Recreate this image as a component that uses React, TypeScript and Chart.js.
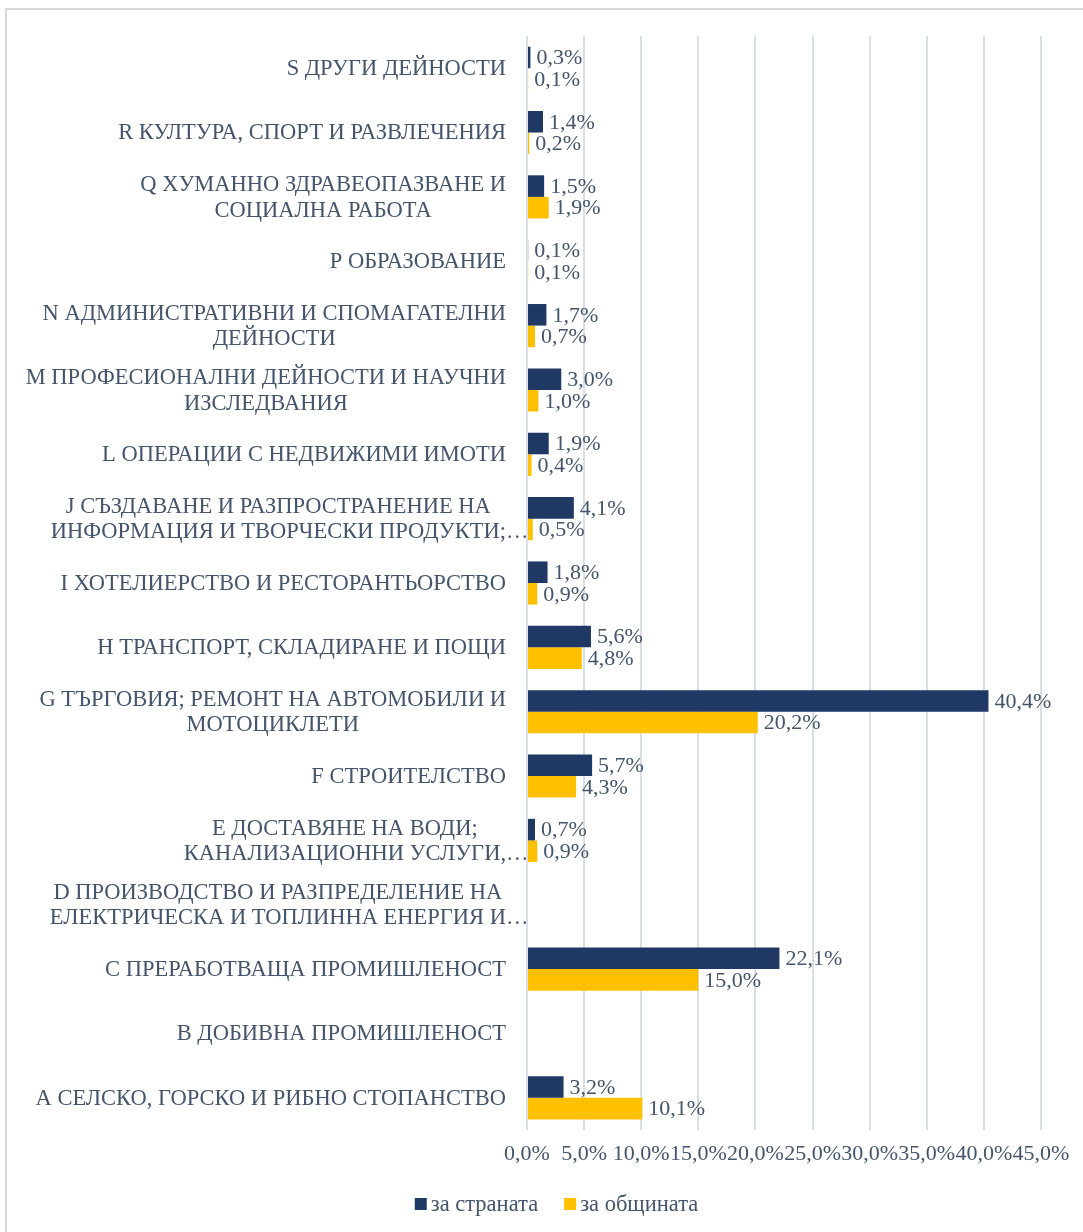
import React, { useEffect, useRef } from "react";
import { Chart, registerables } from "chart.js";

Chart.register(...registerables);

const categoryLabels: string[][] = [
  ["S ДРУГИ ДЕЙНОСТИ"],
  ["R КУЛТУРА, СПОРТ И РАЗВЛЕЧЕНИЯ"],
  ["Q ХУМАННО ЗДРАВЕОПАЗВАНЕ И", "СОЦИАЛНА РАБОТА"],
  ["P ОБРАЗОВАНИЕ"],
  ["N АДМИНИСТРАТИВНИ И СПОМАГАТЕЛНИ", "ДЕЙНОСТИ"],
  ["M ПРОФЕСИОНАЛНИ ДЕЙНОСТИ И НАУЧНИ", "ИЗСЛЕДВАНИЯ"],
  ["L ОПЕРАЦИИ С НЕДВИЖИМИ ИМОТИ"],
  ["J СЪЗДАВАНЕ И РАЗПРОСТРАНЕНИЕ НА", "ИНФОРМАЦИЯ И ТВОРЧЕСКИ ПРОДУКТИ;…"],
  ["I ХОТЕЛИЕРСТВО И РЕСТОРАНТЬОРСТВО"],
  ["H ТРАНСПОРТ, СКЛАДИРАНЕ И ПОЩИ"],
  ["G ТЪРГОВИЯ; РЕМОНТ НА АВТОМОБИЛИ И", "МОТОЦИКЛЕТИ"],
  ["F СТРОИТЕЛСТВО"],
  ["E ДОСТАВЯНЕ НА ВОДИ;", "КАНАЛИЗАЦИОННИ УСЛУГИ,…"],
  ["D ПРОИЗВОДСТВО И РАЗПРЕДЕЛЕНИЕ НА", "ЕЛЕКТРИЧЕСКА И ТОПЛИННА ЕНЕРГИЯ И…"],
  ["C ПРЕРАБОТВАЩА ПРОМИШЛЕНОСТ"],
  ["B ДОБИВНА ПРОМИШЛЕНОСТ"],
  ["A СЕЛСКО, ГОРСКО И РИБНО СТОПАНСТВО"],
];

const countryValues: (number | null)[] = [
  0.3, 1.4, 1.5, 0.1, 1.7, 3.0, 1.9, 4.1, 1.8, 5.6, 40.4, 5.7, 0.7, null, 22.1, null, 3.2,
];

const municipalityValues: (number | null)[] = [
  0.1, 0.2, 1.9, 0.1, 0.7, 1.0, 0.4, 0.5, 0.9, 4.8, 20.2, 4.3, 0.9, null, 15.0, null, 10.1,
];

const seriesNames = ["за страната", "за общината"];
const xTickValues = [0, 5, 10, 15, 20, 25, 30, 35, 40, 45];

const NAVY = "#203864";
const GOLD = "#FFC000";
const TEXT = "#44546A";
const GRID = "#DADEE5";
const FONT = "'Liberation Serif', 'Times New Roman', serif";

const fmt = (v: number) => v.toFixed(1).replace(".", ",") + "%";

const drawPlugin = {
  id: "customText",
  afterDatasetsDraw(chart: any) {
    const ctx = chart.ctx;
    ctx.save();
    ctx.font = `22px ${FONT}`;
    ctx.fillStyle = TEXT;
    ctx.textBaseline = "middle";
    ctx.textAlign = "left";
    chart.data.datasets.forEach((ds: any, di: number) => {
      const meta = chart.getDatasetMeta(di);
      meta.data.forEach((el: any, i: number) => {
        const v = ds.data[i];
        if (v === null || v === undefined) return;
        ctx.fillText(fmt(v), el.x + 6, el.y + 1);
      });
    });
    ctx.restore();
  },
  afterDraw(chart: any) {
    const ctx = chart.ctx;
    const yScale = chart.scales.y;
    ctx.save();
    ctx.font = `22.5px ${FONT}`;
    ctx.fillStyle = TEXT;
    ctx.textBaseline = "middle";
    ctx.textAlign = "left";
    const right = chart.chartArea.left - 21;
    const lh = 25.5;
    categoryLabels.forEach((lines, i) => {
      const cy = yScale.getPixelForValue(i) + 1;
      const core = lines.map((l) => (l.endsWith("…") ? l.slice(0, -1) : l));
      const widths = core.map((l) => ctx.measureText(l).width);
      const maxW = Math.max(...widths);
      const cx = right - maxW / 2;
      const top = cy - ((lines.length - 1) * lh) / 2;
      lines.forEach((l, j) => ctx.fillText(l, cx - widths[j] / 2, top + j * lh));
    });

    // legend
    const box = 12;
    const gapBoxText = 4;
    const gapItems = 26;
    const colors = [NAVY, GOLD];
    const tw = seriesNames.map((s) => ctx.measureText(s).width);
    const total = tw.reduce((a, b) => a + b, 0) + 2 * (box + gapBoxText) + gapItems;
    let x = 556.5 - total / 2;
    const ly = 1204;
    seriesNames.forEach((s, i) => {
      ctx.fillStyle = colors[i];
      ctx.fillRect(x, ly - box / 2, box, box);
      x += box + gapBoxText;
      ctx.fillStyle = TEXT;
      ctx.fillText(s, x, ly + 1);
      x += tw[i] + gapItems;
    });
    ctx.restore();
  },
};

export default function App() {
  const ref = useRef<HTMLCanvasElement | null>(null);

  useEffect(() => {
    if (!ref.current) return;
    const chart = new Chart(ref.current, {
      type: "bar",
      data: {
        labels: categoryLabels.map((l) => l.join(" ")),
        datasets: [
          {
            label: seriesNames[0],
            data: countryValues,
            backgroundColor: NAVY,
            barPercentage: 1.0,
            categoryPercentage: 0.67,
          },
          {
            label: seriesNames[1],
            data: municipalityValues,
            backgroundColor: GOLD,
            barPercentage: 1.0,
            categoryPercentage: 0.67,
          },
        ],
      },
      options: {
        indexAxis: "y",
        animation: false,
        responsive: false,
        devicePixelRatio: 1,
        layout: { padding: { left: 527, right: 42, top: 36, bottom: 62 } },
        plugins: {
          legend: { display: false },
          tooltip: { enabled: false },
        },
        scales: {
          x: {
            type: "linear",
            min: 0,
            max: 45,
            afterBuildTicks: (scale: any) => {
              scale.ticks = xTickValues.map((v) => ({ value: v }));
            },
            afterFit: (scale: any) => {
              scale.height = 40;
            },
            grid: { color: GRID, lineWidth: 2, drawTicks: false },
            border: { display: false },
            ticks: {
              autoSkip: false,
              maxRotation: 0,
              padding: 11,
              color: TEXT,
              font: { family: FONT, size: 22 },
              callback: (v: any) => fmt(Number(v)),
            },
          },
          y: {
            display: false,
            grid: { display: false },
            border: { display: false },
          },
        },
      },
      plugins: [drawPlugin],
    });
    return () => chart.destroy();
  }, []);

  return (
    <>
      <div
        style={{
          position: "absolute",
          left: 5,
          top: 8,
          width: 1078,
          height: 1224,
          borderTop: "2px solid #D9D9D9",
          borderLeft: "2px solid #D9D9D9",
          boxSizing: "border-box",
        }}
      />
      <canvas
        ref={ref}
        width={1083}
        height={1232}
        style={{ position: "absolute", left: 0, top: 0, width: 1083, height: 1232 }}
      />
    </>
  );
}
